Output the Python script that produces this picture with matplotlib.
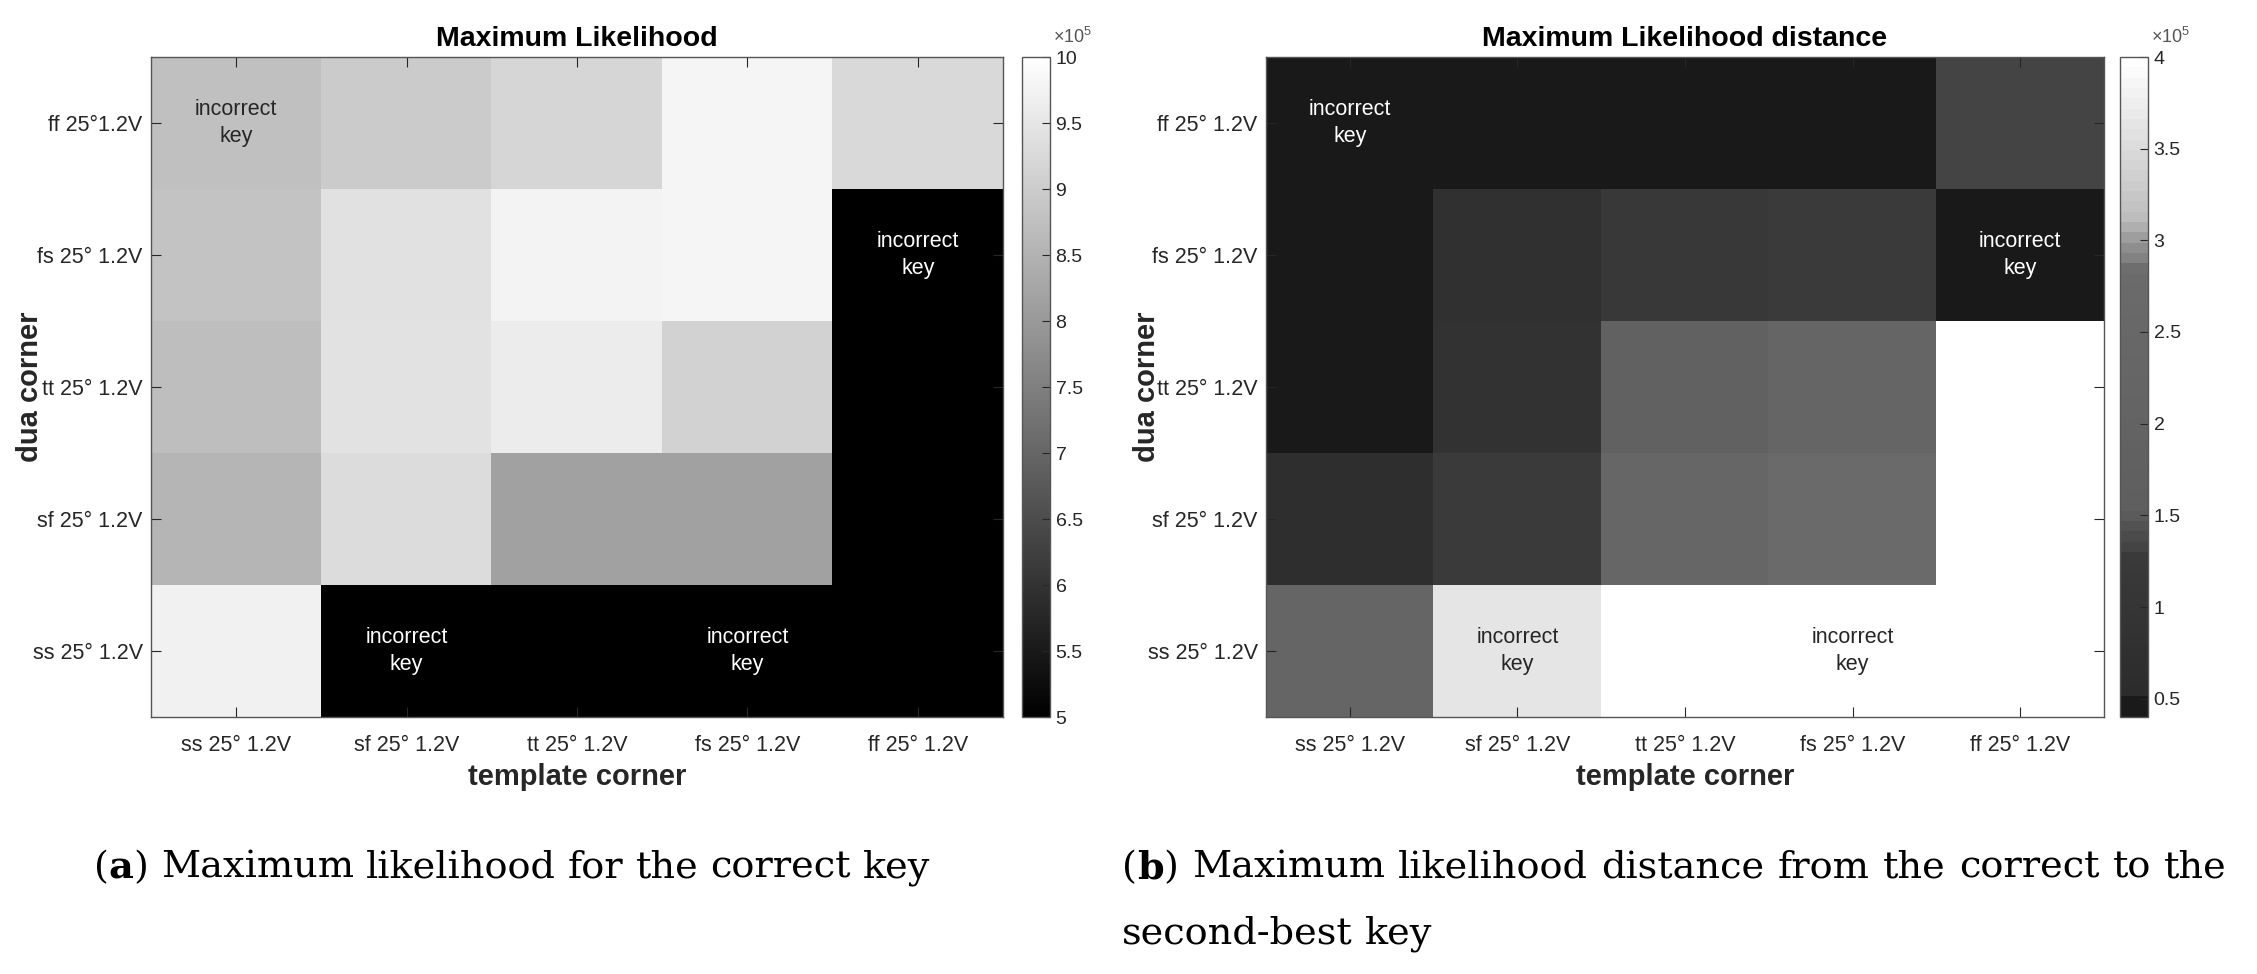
import numpy as np
import matplotlib
matplotlib.use("Agg")
import matplotlib.pyplot as plt
from matplotlib.colors import LinearSegmentedColormap

plt.rcParams["font.family"] = ["Liberation Sans", "DejaVu Sans"]
plt.rcParams["mathtext.fontset"] = "custom"
plt.rcParams["mathtext.rm"] = "Liberation Sans"

# --- data (values in units of 1e5) ---
template_corners = ["ss 25° 1.2V", "sf 25° 1.2V", "tt 25° 1.2V", "fs 25° 1.2V", "ff 25° 1.2V"]
dua_corners_a = ["ff 25°1.2V", "fs 25° 1.2V", "tt 25° 1.2V", "sf 25° 1.2V", "ss 25° 1.2V"]
dua_corners_b = ["ff 25° 1.2V", "fs 25° 1.2V", "tt 25° 1.2V", "sf 25° 1.2V", "ss 25° 1.2V"]

# rows top -> bottom: ff, fs, tt, sf, ss ; cols: ss, sf, tt, fs, ff
ml_row_ff = [8.76, 8.98, 9.18, 9.80, 9.25]
ml_row_fs = [8.82, 9.41, 9.76, 9.80, 5.00]
ml_row_tt = [8.73, 9.43, 9.61, 9.12, 5.00]
ml_row_sf = [8.55, 9.31, 8.16, 8.16, 5.00]
ml_row_ss = [9.71, 5.00, 5.00, 5.00, 5.00]

dist_row_ff = [0.42, 0.42, 0.42, 0.42, 1.35]
dist_row_fs = [0.42, 0.75, 1.15, 1.27, 0.42]
dist_row_tt = [0.42, 0.90, 1.88, 2.31, 4.00]
dist_row_sf = [0.66, 1.29, 2.42, 2.74, 4.00]
dist_row_ss = [2.25, 3.65, 4.00, 4.00, 4.00]

# cells marked "incorrect key" (row, col)
incorrect_cells = [(0, 0), (1, 4), (4, 1), (4, 3)]

ml = np.array([ml_row_ff, ml_row_fs, ml_row_tt, ml_row_sf, ml_row_ss])
dist = np.array([dist_row_ff, dist_row_fs, dist_row_tt, dist_row_sf, dist_row_ss])

# stepped gray map of panel (b): (value, gray level)
DIST_LIM = (0.40, 4.00)
dist_map_pts = [(0.40, 0.10), (0.47, 0.10), (0.48, 0.17), (1.27, 0.23), (1.30, 0.26),
                (1.45, 0.33), (1.50, 0.37), (2.85, 0.42), (2.90, 0.50), (3.00, 0.58),
                (3.05, 0.65), (3.15, 0.75), (4.00, 1.00)]
lo, hi = DIST_LIM
cmap_b = LinearSegmentedColormap.from_list(
    "dist", [((v - lo) / (hi - lo), (g, g, g)) for v, g in dist_map_pts], N=64)
cmap_a = plt.get_cmap("gray", 256)

W, H = 2257, 974
fig = plt.figure(figsize=(W / 100, H / 100), dpi=100)

TXT = "#262626"

def panel(rect, crect, data, cmap, vmin, vmax, ylabels, title, cticks, ctlabels, ylab_x):
    ax = fig.add_axes(rect)
    im = ax.imshow(data, cmap=cmap, vmin=vmin, vmax=vmax, aspect="auto",
                   interpolation="nearest")
    ax.set_xticks(range(5)); ax.set_xticklabels(template_corners)
    ax.set_yticks(range(5)); ax.set_yticklabels(ylabels)
    ax.tick_params(axis="x", direction="in", length=7, top=True, pad=13,
                   labelsize=15.5, colors=TXT)
    ax.tick_params(axis="y", direction="in", length=7, right=True, pad=6,
                   labelsize=15.5, colors=TXT)
    for s in ax.spines.values():
        s.set_color("#555555"); s.set_linewidth(1.0)
    ax.set_title(title, fontsize=20.5, fontweight="bold", pad=8)
    ax.set_xlabel("template corner", fontsize=21, fontweight="bold", color=TXT, labelpad=5)
    ax.set_ylabel("dua corner", fontsize=21, fontweight="bold", color=TXT)
    ax.yaxis.set_label_coords(ylab_x, 0.5)
    for (r, c) in incorrect_cells:
        v = (data[r, c] - vmin) / (vmax - vmin)
        col = "white" if v < 0.5 else TXT
        ax.text(c, r, "incorrect\nkey", ha="center", va="center", fontsize=15.5,
                color=col, linespacing=1.4)
    cax = fig.add_axes(crect)
    cb = fig.colorbar(im, cax=cax, ticks=cticks)
    cb.ax.set_yticklabels(ctlabels)
    cb.ax.tick_params(direction="in", length=6, labelsize=14, colors=TXT, pad=4)
    cb.outline.set_edgecolor("#555555"); cb.outline.set_linewidth(1.0)
    cax.text(1.1, 1.015, r"$\times10^5$", transform=cax.transAxes, ha="left",
             va="bottom", fontsize=13, color="#555555")
    return ax

ax_top = 57 / H
ax_h = 660 / H
panel([151 / W, 1 - ax_top - ax_h, 852 / W, ax_h], [1022 / W, 1 - ax_top - ax_h, 28 / W, ax_h],
      ml, cmap_a, 5, 10, dua_corners_a, "Maximum Likelihood",
      np.arange(5, 10.01, 0.5), ["5", "5.5", "6", "6.5", "7", "7.5", "8", "8.5", "9", "9.5", "10"],
      (44 - 151) / 852)
panel([1266 / W, 1 - ax_top - ax_h, 838 / W, ax_h], [2120 / W, 1 - ax_top - ax_h, 28 / W, ax_h],
      dist, cmap_b, DIST_LIM[0], DIST_LIM[1], dua_corners_b, "Maximum Likelihood distance",
      np.arange(0.5, 4.01, 0.5), ["0.5", "1", "1.5", "2", "2.5", "3", "3.5", "4"],
      (1161 - 1266) / 838)

# captions (the first line of (b) is justified to the column width)
renderer = fig.canvas.get_renderer()
CAP = dict(fontsize=27.5, family="DejaVu Serif", color="black", va="center")

def caption(x, y, words, right=None):
    # words: list of words, each a list of (text, weight) pieces
    placed = []
    for word in words:
        pieces, w = [], 0
        for s, wt in word:
            t = fig.text(0, y, s, fontweight=wt, **CAP)
            pw = t.get_window_extent(renderer).width
            pieces.append((t, w)); w += pw
        placed.append((pieces, w))
    space = fig.text(0, y, "a a", **CAP).get_window_extent(renderer).width \
        - 2 * fig.text(0, y, "a", **CAP).get_window_extent(renderer).width
    for t in fig.texts[-2:]:
        t.remove()
    total = sum(w for _, w in placed)
    gap = space if right is None else (right - x - total) / (len(placed) - 1)
    for pieces, w in placed:
        for t, off in pieces:
            t.set_x((x + off) / W)
        x += w + gap

y1, y2 = 1 - 868 / H, 1 - 934 / H
cap_a = "Maximum likelihood for the correct key".split()
cap_b1 = "Maximum likelihood distance from the correct to the".split()
cap_b2 = "second-best key".split()
caption(94, y1, [[("(", "normal"), ("a", "bold"), (")", "normal")]] +
        [[(s, "normal")] for s in cap_a])
caption(1122, y1, [[("(", "normal"), ("b", "bold"), (")", "normal")]] +
        [[(s, "normal")] for s in cap_b1], right=2227)
caption(1122, y2, [[(s, "normal")] for s in cap_b2])

fig.savefig("out.png", dpi=100)
